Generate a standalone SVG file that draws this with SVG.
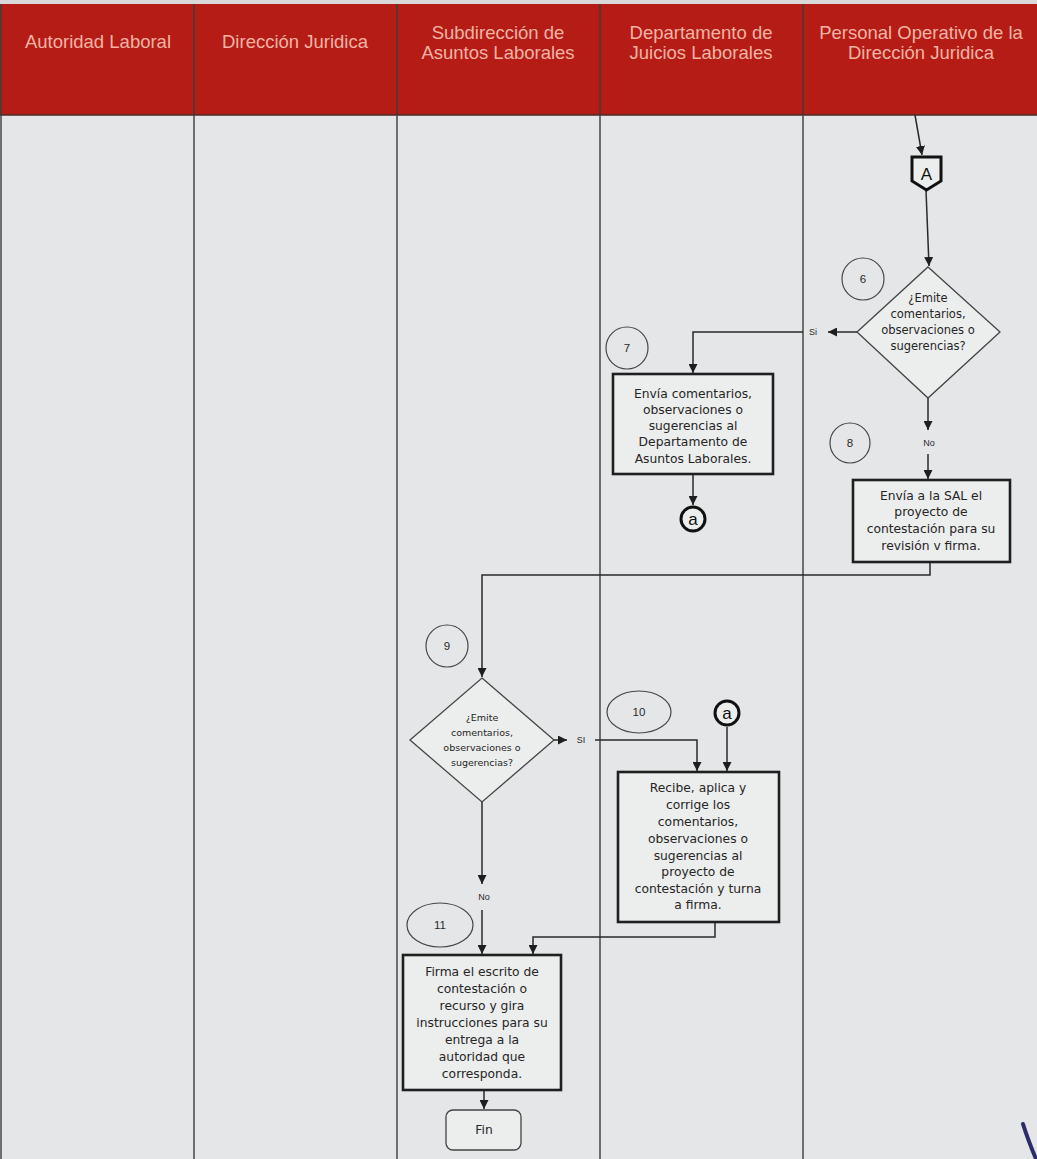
<svg xmlns="http://www.w3.org/2000/svg" width="1037" height="1159" viewBox="0 0 1037 1159">
  <defs>
    <marker id="arr" viewBox="0 0 10 10" refX="10" refY="5" markerWidth="9" markerHeight="9" markerUnits="userSpaceOnUse" orient="auto">
      <path d="M0,0 L10,5 L0,10 Z" fill="#1e1e1e"/>
    </marker>
    <style>
      .hdr { font-family: "Liberation Sans", Arial, sans-serif; font-size: 18.5px; fill: #f2b3a4; text-anchor: middle; }
      .lane { stroke: #3c3c3c; stroke-width: 1.4; }
      .box { fill: #eceded; stroke: #1f1f1f; stroke-width: 2.6; }
      .dia { fill: #eceded; stroke: #454545; stroke-width: 1.3; }
      .num { fill: none; stroke: #474747; stroke-width: 1.2; }
      .con { fill: none; stroke: #2a2a2a; stroke-width: 1.5; }
      .t { font-family: "DejaVu Sans", "Liberation Sans", sans-serif; font-size: 12.3px; fill: #262626; text-anchor: middle; }
      .ts { font-family: "DejaVu Sans", "Liberation Sans", sans-serif; font-size: 11.5px; fill: #262626; text-anchor: middle; }
      .tx { font-family: "DejaVu Sans", "Liberation Sans", sans-serif; font-size: 9.5px; fill: #262626; text-anchor: middle; }
      .lbl { font-family: "Liberation Sans", Arial, sans-serif; font-size: 9px; fill: #2a2a2a; text-anchor: middle; }
      .n { font-family: "Liberation Sans", Arial, sans-serif; font-size: 11.5px; fill: #2a2a2a; text-anchor: middle; }
      .ref { fill: #eceded; stroke: #111; stroke-width: 3; }
      .refl { font-family: "Liberation Sans", Arial, sans-serif; fill: #111; text-anchor: middle; }
    </style>
  </defs>

  <!-- swimlane frame -->
  <g id="lanes">
    <rect x="0" y="0" width="1037" height="1159" fill="#e5e6e8"/>
    <rect x="0" y="0" width="1037" height="4" fill="#d9d9d9"/>
    <rect x="0" y="4" width="1037" height="111" fill="#b61c16"/>
    <line x1="0" y1="115" x2="1037" y2="115" stroke="#4a2a2a" stroke-width="1.5"/>
    <line class="lane" x1="1" y1="4" x2="1" y2="1159"/>
    <line class="lane" x1="194" y1="4" x2="194" y2="1159"/>
    <line class="lane" x1="397" y1="4" x2="397" y2="1159"/>
    <line class="lane" x1="600" y1="4" x2="600" y2="1159"/>
    <line class="lane" x1="803" y1="4" x2="803" y2="1159"/>
    <text class="hdr" x="98" y="48">Autoridad Laboral</text>
    <text class="hdr" x="295" y="48">Dirección Juridica</text>
    <text class="hdr" x="498" y="39">Subdirección de</text>
    <text class="hdr" x="498" y="59">Asuntos Laborales</text>
    <text class="hdr" x="701" y="39">Departamento de</text>
    <text class="hdr" x="701" y="59">Juicios Laborales</text>
    <text class="hdr" x="921" y="39">Personal Operativo de la</text>
    <text class="hdr" x="921" y="59">Dirección Juridica</text>
  </g>

  <!-- connectors -->
  <g id="connectors">
    <path class="con" d="M915,115 L922,155" marker-end="url(#arr)"/>
    <path class="con" d="M926,190 L929,266" marker-end="url(#arr)"/>
    <path class="con" d="M857,332 L828,332" marker-end="url(#arr)"/>
    <text class="lbl" x="813" y="335">Si</text>
    <path class="con" d="M803,332 L693,332 L693,373" marker-end="url(#arr)"/>
    <path class="con" d="M693,474 L693,505" marker-end="url(#arr)"/>
    <path class="con" d="M928,398 L928,430" marker-end="url(#arr)"/>
    <text class="lbl" x="929" y="446">No</text>
    <path class="con" d="M928,454 L928,479" marker-end="url(#arr)"/>
    <path class="con" d="M930,562 L930,575 L482,575 L482,677" marker-end="url(#arr)"/>
    <path class="con" d="M554,740 L567,740" marker-end="url(#arr)"/>
    <text class="lbl" x="581" y="743">SI</text>
    <path class="con" d="M595,740 L697,740 L697,771" marker-end="url(#arr)"/>
    <path class="con" d="M727,727 L727,771" marker-end="url(#arr)"/>
    <path class="con" d="M482,802 L482,884" marker-end="url(#arr)"/>
    <text class="lbl" x="484" y="900">No</text>
    <path class="con" d="M482,910 L482,954" marker-end="url(#arr)"/>
    <path class="con" d="M715,922 L715,937 L533,937 L533,954" marker-end="url(#arr)"/>
    <path class="con" d="M484,1090 L484,1109" marker-end="url(#arr)"/>
  </g>

  <!-- off-page reference A -->
  <g id="refA">
    <path class="ref" d="M912,157 H941 V181 L926.5,190 L912,181 Z"/>
    <text class="refl" x="926.5" y="180" font-size="17">A</text>
  </g>

  <!-- step 6: decision -->
  <g id="step6">
    <circle class="num" cx="863" cy="279" r="21"/>
    <text class="n" x="863" y="283">6</text>
    <polygon class="dia" points="928,267 1000,332 928,398 857,332"/>
    <text class="ts" x="928" y="302">¿Emite</text>
    <text class="ts" x="928" y="318">comentarios,</text>
    <text class="ts" x="928" y="334">observaciones o</text>
    <text class="ts" x="928" y="350">sugerencias?</text>
  </g>

  <!-- step 7 -->
  <g id="step7">
    <circle class="num" cx="627" cy="348" r="21"/>
    <text class="n" x="627" y="352">7</text>
    <rect class="box" x="613" y="374" width="160" height="100"/>
    <text class="t" x="693" y="398">Envía comentarios,</text>
    <text class="t" x="693" y="414">observaciones o</text>
    <text class="t" x="693" y="430">sugerencias al</text>
    <text class="t" x="693" y="446">Departamento de</text>
    <text class="t" x="693" y="463">Asuntos Laborales.</text>
  </g>

  <!-- connector a (out) -->
  <g id="refa1">
    <circle class="ref" cx="693" cy="519" r="12"/>
    <text class="refl" x="693" y="525" font-size="17">a</text>
  </g>

  <!-- step 8 -->
  <g id="step8">
    <circle class="num" cx="850" cy="443" r="20"/>
    <text class="n" x="850" y="447">8</text>
    <rect class="box" x="853" y="480" width="157" height="82"/>
    <text class="t" x="931" y="500">Envía a la SAL el</text>
    <text class="t" x="931" y="516">proyecto de</text>
    <text class="t" x="931" y="533">contestación para su</text>
    <text class="t" x="931" y="550">revisión v firma.</text>
  </g>

  <!-- step 9: decision -->
  <g id="step9">
    <circle class="num" cx="447" cy="646" r="21"/>
    <text class="n" x="447" y="650">9</text>
    <polygon class="dia" points="482,678 554,740 482,802 410,740"/>
    <text class="tx" x="482" y="721">¿Emite</text>
    <text class="tx" x="482" y="736">comentarios,</text>
    <text class="tx" x="482" y="751">observaciones o</text>
    <text class="tx" x="482" y="766">sugerencias?</text>
  </g>

  <!-- step 10 -->
  <g id="step10">
    <ellipse class="num" cx="639" cy="712" rx="32" ry="21"/>
    <text class="n" x="639" y="716">10</text>
    <rect class="box" x="618" y="772" width="161" height="150"/>
    <text class="t" x="698" y="792">Recibe, aplica y</text>
    <text class="t" x="698" y="809">corrige los</text>
    <text class="t" x="698" y="826">comentarios,</text>
    <text class="t" x="698" y="843">observaciones o</text>
    <text class="t" x="698" y="860">sugerencias al</text>
    <text class="t" x="698" y="876">proyecto de</text>
    <text class="t" x="698" y="893">contestación y turna</text>
    <text class="t" x="698" y="909">a firma.</text>
  </g>

  <!-- connector a (in) -->
  <g id="refa2">
    <circle class="ref" cx="727" cy="713" r="12"/>
    <text class="refl" x="727" y="719" font-size="17">a</text>
  </g>

  <!-- step 11 -->
  <g id="step11">
    <ellipse class="num" cx="440" cy="925" rx="33" ry="22"/>
    <text class="n" x="440" y="929">11</text>
    <rect class="box" x="403" y="955" width="158" height="135"/>
    <text class="t" x="482" y="976">Firma el escrito de</text>
    <text class="t" x="482" y="993">contestación o</text>
    <text class="t" x="482" y="1010">recurso y gira</text>
    <text class="t" x="482" y="1027">instrucciones para su</text>
    <text class="t" x="482" y="1044">entrega a la</text>
    <text class="t" x="482" y="1061">autoridad que</text>
    <text class="t" x="482" y="1078">corresponda.</text>
  </g>

  <!-- end -->
  <g id="fin">
    <rect x="446" y="1110" width="75" height="40" rx="7" fill="#eceded" stroke="#444" stroke-width="1.3"/>
    <text class="t" x="484" y="1134">Fin</text>
  </g>

  <!-- ink stroke in the corner -->
  <path d="M1023,1124 Q1028,1140 1036,1159" fill="none" stroke="#2b2d6b" stroke-width="4" stroke-linecap="round"/>
</svg>
